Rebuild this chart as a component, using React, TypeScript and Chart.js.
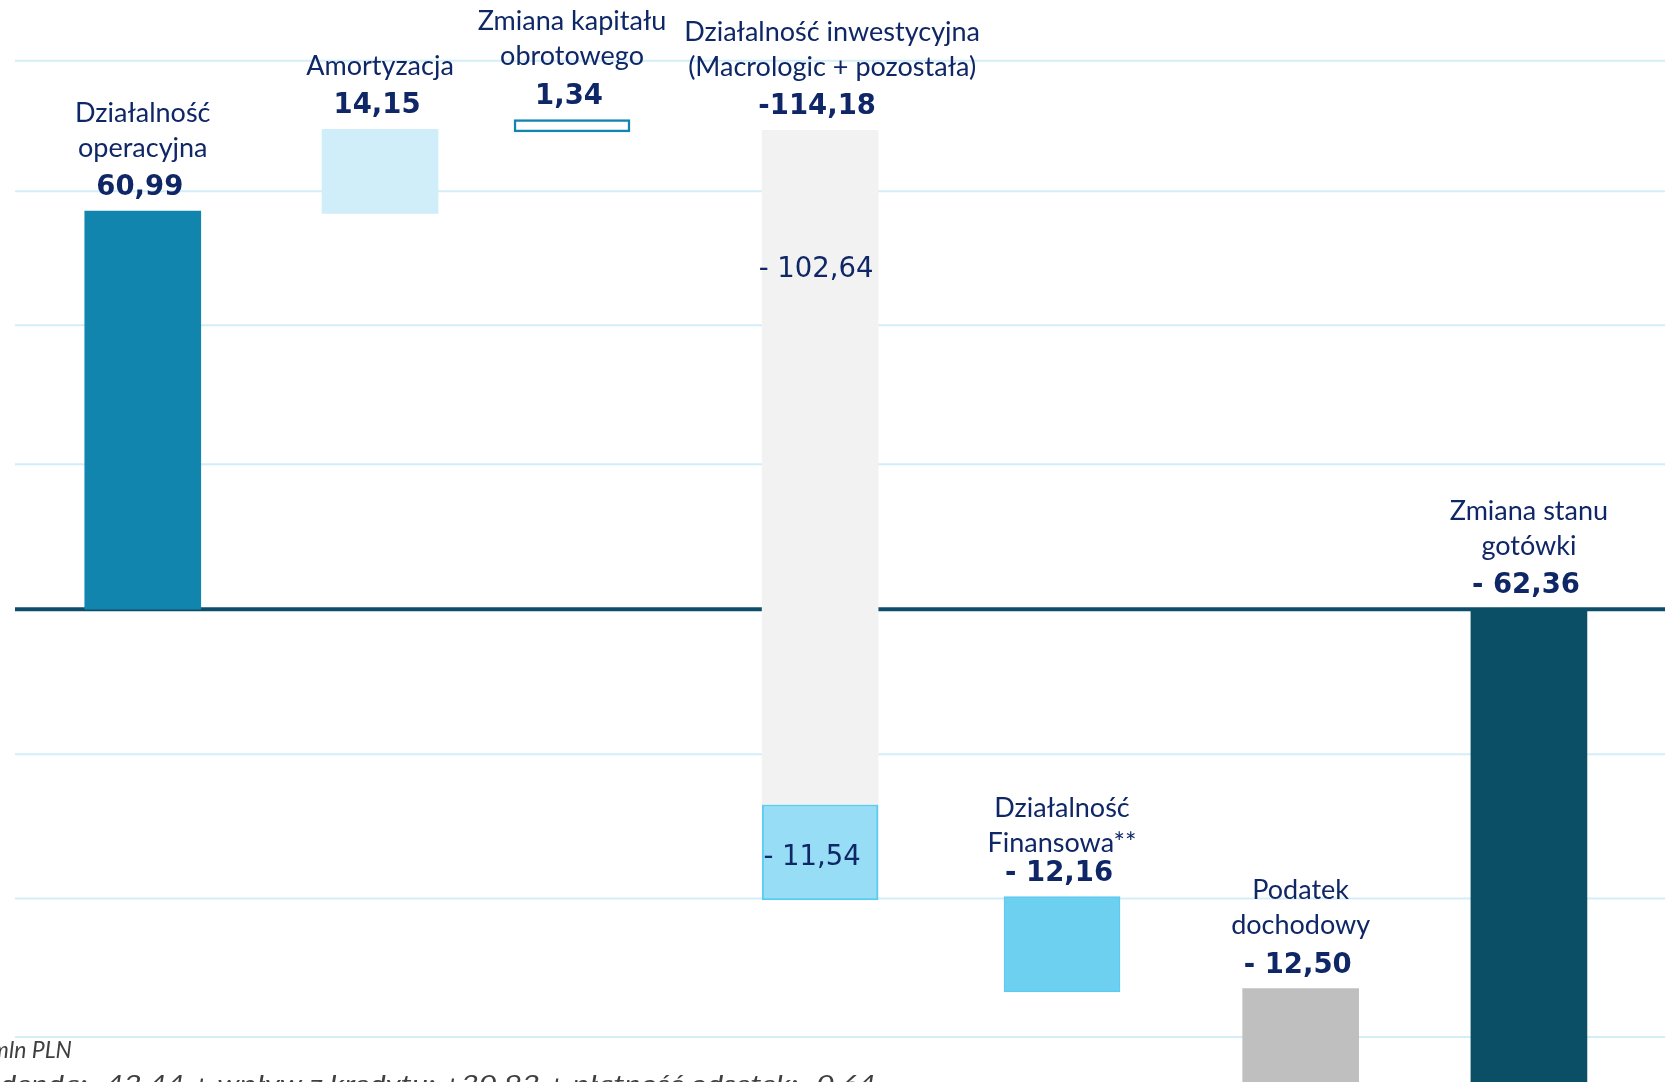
import React, { useEffect, useRef } from "react";
import { Chart, registerables } from "chart.js";

Chart.register(...registerables);

// ---- data ----
const categories = [
  "Działalność operacyjna",
  "Amortyzacja",
  "Zmiana kapitału obrotowego",
  "Działalność inwestycyjna (Macrologic + pozostała)",
  "Działalność Finansowa**",
  "Podatek dochodowy",
  "Zmiana stanu gotówki",
];
// horizontal slot of each bar as placed in the picture (slot units)
const slotPositions = [0, 1.027, 1.858, 2.932, 3.979, 5.012, 6];
const nameLines = [
  ["Działalność", "operacyjna"],
  ["Amortyzacja"],
  ["Zmiana kapitału", "obrotowego"],
  ["Działalność inwestycyjna", "(Macrologic + pozostała)"],
  ["Działalność", "Finansowa**"],
  ["Podatek", "dochodowy"],
  ["Zmiana stanu", "gotówki"],
];
const valueLabels = ["60,99", "14,15", "1,34", "-114,18", "- 12,16", "- 12,50", "- 62,36"];
// floating bar ranges as drawn in the picture (mln PLN)
const barStart = [0, 60.6, 73.1, -29.9, -58.6, -75, -75];
const barEnd = [60.99, 73.5, 75.0, 73.35, -44.0, -58.1, 0];
// Macrologic part of investment activity
const macroStart = [null, null, null, -44.5, null, null, null];
const macroEnd = [null, null, null, -29.9, null, null, null];
const segmentLabels = ["- 102,64", "- 11,54"];
const gridValues = [84, 64, 43.5, 22.2, -22.2, -44.3, -65.5];
const unitLabel = "mln PLN";
const footPrefix = "**dywi";
const footRest = "denda: -42,44 + wpływ z kredytu: +30,92 + płatność odsetek: -0,64";

// ---- styles / label layout ----
const NAVY = "#0F2766";
const barColors = ["#1185AE", "#D0EEF9", "#FFFFFF", "#F2F2F2", "#6DD0F1", "#BFBFBF", "#0A4F66"];
const borderColors = ["#1185AE", "#D0EEF9", "#1185AE", "#F2F2F2", "#5FCAEF", "#BFBFBF", "#0A4F66"];
const borderWidths = [0, 0, 2.5, 0, 1.5, 0, 0];
const nameShiftX = [0, 0, 0, 12, 0, 0, 0];
const nameShiftY = [0, 0, 0, 0, 10, 0, 0];

const gridPlugin = {
  id: "gridLines",
  beforeDatasetsDraw(chart: any) {
    const { ctx, scales } = chart;
    const y = scales.y;
    const W = chart.width;
    ctx.save();
    ctx.strokeStyle = "#D3EEF9";
    ctx.lineWidth = 2;
    gridValues.forEach((v) => {
      const py = y.getPixelForValue(v);
      ctx.beginPath();
      ctx.moveTo(15, py);
      ctx.lineTo(W, py);
      ctx.stroke();
    });
    const zy = y.getPixelForValue(0);
    ctx.strokeStyle = "#0C4E69";
    ctx.lineWidth = 4;
    ctx.beginPath();
    ctx.moveTo(15, zy);
    ctx.lineTo(W, zy);
    ctx.stroke();
    ctx.restore();
  },
};

const labelPlugin = {
  id: "barLabels",
  afterDatasetsDraw(chart: any) {
    const { ctx } = chart;
    const meta = chart.getDatasetMeta(0);
    ctx.save();
    ctx.fillStyle = NAVY;
    ctx.textAlign = "center";
    ctx.textBaseline = "middle";
    meta.data.forEach((el: any, i: number) => {
      const { x, y, base } = el.getProps(["x", "y", "base"], true);
      const top = Math.min(y, base);
      const numY = top - 23;
      ctx.font = "bold 27.5px 'DejaVu Sans'";
      ctx.fillText(valueLabels[i], x - 3, numY);
      ctx.font = "27px Lato";
      const lines = nameLines[i];
      lines.forEach((ln, j) => {
        const ly = numY - 40 - (lines.length - 1 - j) * 35 + nameShiftY[i];
        ctx.fillText(ln, x + nameShiftX[i], ly);
      });
    });
    // inner segment labels of investment bar
    ctx.font = "27.5px 'DejaVu Sans'";
    const grey = meta.data[3].getProps(["x", "y", "base"], true);
    ctx.fillText(segmentLabels[0], grey.x - 4, Math.min(grey.y, grey.base) + 140);
    const blue = chart.getDatasetMeta(1).data[0].getProps(["x", "y", "base"], true);
    ctx.fillText(segmentLabels[1], blue.x - 8, (blue.y + blue.base) / 2 + 6);

    // footnotes
    ctx.textAlign = "left";
    ctx.textBaseline = "alphabetic";
    ctx.fillStyle = "#404040";
    ctx.font = "italic 23px Lato";
    ctx.fillText(unitLabel, 31.7 - ctx.measureText("mln ").width, 1058);
    const wRest = ctx.measureText(footRest).width;
    const wPre = ctx.measureText(footPrefix).width;
    ctx.translate(0, 1092);
    ctx.scale(876 / wRest, 1);
    ctx.fillText(footPrefix + footRest, -wPre, 0);
    ctx.restore();
  },
};

export default function App() {
  const ref = useRef<HTMLCanvasElement>(null);
  useEffect(() => {
    document.body.style.margin = "0";
    const mainData = categories.map((_, i) => ({ x: slotPositions[i], y: [barStart[i], barEnd[i]] }));
    const macroData = categories
      .map((_, i) =>
        macroStart[i] === null ? null : { x: slotPositions[i], y: [macroStart[i], macroEnd[i]] }
      )
      .filter((d) => d !== null);
    const chart = new Chart(ref.current as HTMLCanvasElement, {
      type: "bar",
      data: {
        datasets: [
          {
            label: "Przepływy",
            data: mainData as any,
            backgroundColor: barColors,
            borderColor: borderColors,
            borderWidth: borderWidths,
            borderSkipped: false,
            barThickness: 116,
            grouped: false,
          } as any,
          {
            label: "Macrologic",
            data: macroData as any,
            backgroundColor: "#97DDF5",
            borderColor: "#5CCBF0",
            borderWidth: 2,
            borderSkipped: false,
            barThickness: 116,
            grouped: false,
          } as any,
        ],
      },
      options: {
        responsive: false,
        animation: false,
        devicePixelRatio: 1,
        layout: { padding: 0 },
        plugins: { legend: { display: false }, tooltip: { enabled: false } },
        scales: {
          x: { type: "linear", display: false, offset: false, min: -0.618, max: 6.589 },
          y: { display: false, min: -72.4, max: 93.3 },
        },
      },
      plugins: [gridPlugin, labelPlugin],
    });
    return () => chart.destroy();
  }, []);
  return <canvas ref={ref} width={1665} height={1082} style={{ display: "block" }} />;
}
